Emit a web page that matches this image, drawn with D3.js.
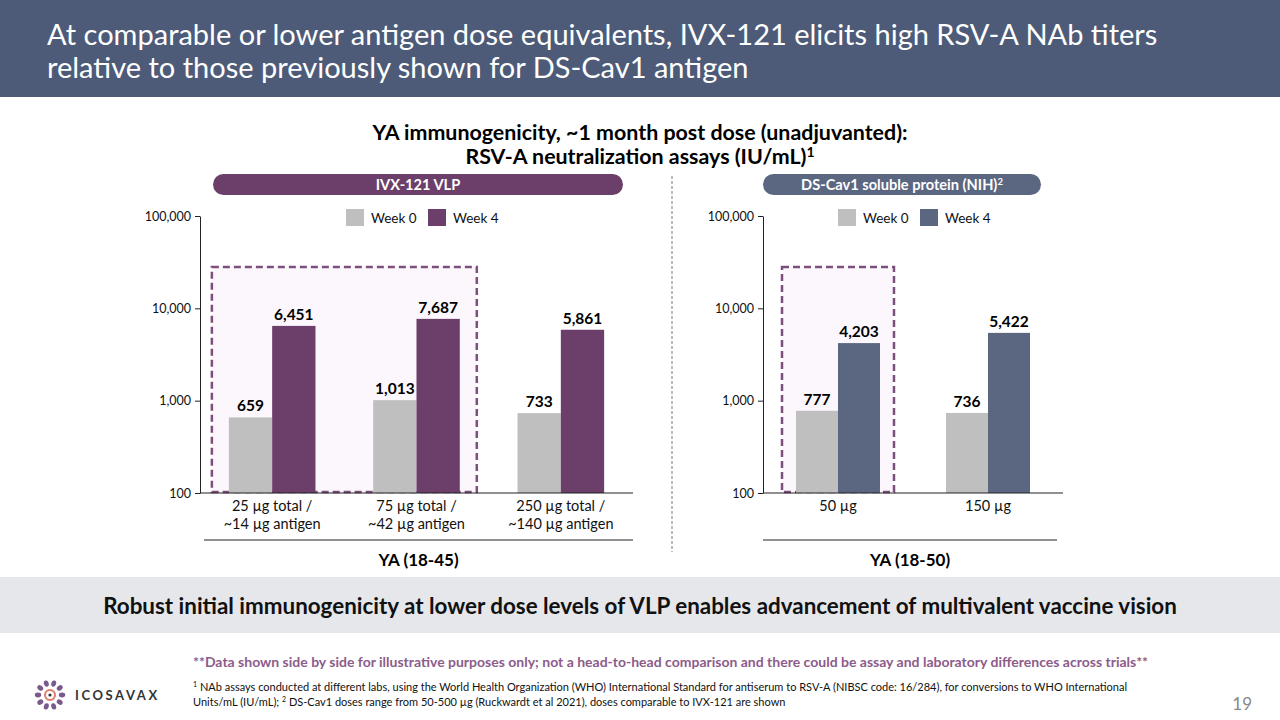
<!DOCTYPE html>
<html><head><meta charset="utf-8">
<script src="https://cdn.jsdelivr.net/npm/d3@7"></script>
<style>
body{margin:0;background:#fff;}
svg{display:block;font-family:Lato,"Open Sans",sans-serif;}
</style></head>
<body><svg id="c" width="1280" height="720"></svg>
<script>
// ---- data ----
const leftCategories = [["25 µg total /","~14 µg antigen"],["75 µg total /","~42 µg antigen"],["250 µg total /","~140 µg antigen"]];
const leftWeek0 = [659, 1013, 733];
const leftWeek4 = [6451, 7687, 5861];
const rightCategories = [["50 µg"],["150 µg"]];
const rightWeek0 = [777, 736];
const rightWeek4 = [4203, 5422];
const yTicks = [100, 1000, 10000, 100000];
const seriesNames = ["Week 0", "Week 4"];

const svg = d3.select("#c");
const fmt = d3.format(",");

// header
svg.append("rect").attr("x",0).attr("y",0).attr("width",1280).attr("height",97).attr("fill","#4d5b78");
svg.append("text").attr("x",47).attr("y",45).attr("fill","#fff").attr("font-size",29)
  .text("At comparable or lower antigen dose equivalents, IVX-121 elicits high RSV-A NAb titers");
svg.append("text").attr("x",47).attr("y",78).attr("fill","#fff").attr("font-size",29)
  .text("relative to those previously shown for DS-Cav1 antigen");

// subtitle
svg.append("text").attr("x",640).attr("y",140).attr("text-anchor","middle").attr("font-size",21.4).attr("font-weight","bold")
  .text("YA immunogenicity, ~1 month post dose (unadjuvanted):");
const st = svg.append("text").attr("x",640).attr("y",164).attr("text-anchor","middle").attr("font-size",21.4).attr("font-weight","bold");
st.append("tspan").text("RSV-A neutralization assays (IU/mL)");
st.append("tspan").attr("dy",-7).attr("font-size",14).text("1");

// pills
function pill(x0,x1,color,label,sup){
  svg.append("rect").attr("x",x0).attr("y",174).attr("width",x1-x0).attr("height",21).attr("rx",10.5).attr("fill",color);
  const t = svg.append("text").attr("x",(x0+x1)/2).attr("y",190).attr("text-anchor","middle").attr("fill","#fff")
    .attr("font-size",14.6).attr("font-weight","bold");
  t.append("tspan").text(label);
  if(sup) t.append("tspan").attr("dy",-5).attr("font-size",9.5).text(sup);
}
pill(213,623,"#6b3f69","IVX-121 VLP");
pill(763,1041,"#5b6680","DS-Cav1 soluble protein (NIH)","2");

// divider
svg.append("line").attr("x1",672).attr("x2",672).attr("y1",176).attr("y2",552)
  .attr("stroke","#777").attr("stroke-width",1).attr("stroke-dasharray","3,2");

const y = d3.scaleLog().domain([100,100000]).range([493,216]);

function panel(opt){
  const g = svg.append("g");
  const x0 = d3.scaleBand().domain(d3.range(opt.cats.length)).range([opt.left,opt.right]).padding(0);
  const x1 = d3.scaleBand().domain([0,1]).range([x0.bandwidth()*opt.inset, x0.bandwidth()*(1-opt.inset)]).padding(0);

  // highlight box
  const bx0 = x0(opt.boxFrom)+x1(0)-opt.boxPad, bx1 = x0(opt.boxTo)+x1(1)+x1.bandwidth()+opt.boxPad;
  g.append("rect").attr("x",bx0).attr("y",y(28000)).attr("width",bx1-bx0).attr("height",y(100)-1-y(28000))
    .attr("fill","#fbf7fc").attr("stroke","#7d4f7c").attr("stroke-width",2.5).attr("stroke-dasharray","7,4");

  const series = [opt.w0, opt.w4];
  const colors = ["#bfbfbf", opt.color];
  series.forEach((vals,si)=>{
    g.selectAll(null).data(vals).join("rect")
      .attr("x",(d,i)=>x0(i)+x1(si)).attr("width",x1.bandwidth())
      .attr("y",d=>y(d)).attr("height",d=>y(100)-y(d)).attr("fill",colors[si]);
    g.selectAll(null).data(vals).join("text")
      .attr("x",(d,i)=>x0(i)+x1(si)+x1.bandwidth()/2).attr("y",d=>y(d)-6)
      .attr("text-anchor","middle").attr("font-size",15.5).attr("font-weight","bold").text(d=>fmt(d));
  });

  // y axis
  const ax = g.append("g").attr("transform",`translate(${opt.left},0)`)
    .call(d3.axisLeft(y).tickValues(yTicks).tickFormat(d=>fmt(d)).tickSize(5).tickSizeOuter(0));
  ax.select(".domain").attr("stroke","#222");
  ax.selectAll(".tick line").attr("stroke","#222");
  ax.selectAll(".tick text").attr("font-family","Lato, sans-serif").attr("font-size",12.5).attr("fill","#111").attr("x",-9);
  // x axis line
  g.append("line").attr("x1",opt.left).attr("x2",opt.right).attr("y1",y(100)).attr("y2",y(100)).attr("stroke","#222").attr("stroke-width",1.2);

  // category labels
  opt.cats.forEach((lines,i)=>{
    const t = g.append("text").attr("x",x0(i)+x0.bandwidth()/2).attr("y",511).attr("text-anchor","middle").attr("font-size",14.5).attr("fill","#111");
    lines.forEach((l,j)=>t.append("tspan").attr("x",x0(i)+x0.bandwidth()/2).attr("dy",j?18:0).text(l));
  });
  g.append("line").attr("x1",opt.ulx0).attr("x2",opt.ulx1).attr("y1",540).attr("y2",540).attr("stroke","#222").attr("stroke-width",1.2);
  g.append("text").attr("x",(opt.ulx0+opt.ulx1)/2).attr("y",566).attr("text-anchor","middle").attr("font-size",17).attr("font-weight","bold").text(opt.group);

  // legend
  const lg = g.append("g").attr("transform",`translate(${opt.legX},209)`);
  seriesNames.forEach((n,i)=>{
    lg.append("rect").attr("x",i*82).attr("y",0).attr("width",18).attr("height",17).attr("fill",colors[i]);
    lg.append("text").attr("x",i*82+25).attr("y",14).attr("font-size",13.5).attr("fill","#111").text(n);
  });
}

panel({cats:leftCategories,w0:leftWeek0,w4:leftWeek4,left:200,right:633,inset:0.2,color:"#6b3f69",
  boxFrom:0,boxTo:1,boxPad:17,ulx0:204,ulx1:633,group:"YA (18-45)",legX:346});
panel({cats:rightCategories,w0:rightWeek0,w4:rightWeek4,left:763,right:1063,inset:0.22,color:"#5b6680",
  boxFrom:0,boxTo:0,boxPad:14,ulx0:763,ulx1:1057,group:"YA (18-50)",legX:838});

// bottom band
svg.append("rect").attr("x",0).attr("y",577).attr("width",1280).attr("height",56).attr("fill","#e6e7eb");
svg.append("text").attr("x",640).attr("y",614).attr("text-anchor","middle").attr("font-size",22.4).attr("font-weight","bold").attr("fill","#111")
  .text("Robust initial immunogenicity at lower dose levels of VLP enables advancement of multivalent vaccine vision");

// footnotes
svg.append("text").attr("x",193).attr("y",667).attr("font-size",14).attr("font-weight","bold").attr("fill","#8c5c8b")
  .text("**Data shown side by side for illustrative purposes only; not a head-to-head comparison and there could be assay and laboratory differences across trials**");
const f1 = svg.append("text").attr("x",193).attr("y",691).attr("font-size",11).attr("fill","#111");
f1.append("tspan").attr("dy",-4).attr("font-size",7).text("1");
f1.append("tspan").attr("dy",4).text(" NAb assays conducted at different labs, using the World Health Organization (WHO) International Standard for antiserum to RSV-A (NIBSC code: 16/284), for conversions to WHO International");
const f2 = svg.append("text").attr("x",193).attr("y",706).attr("font-size",11).attr("fill","#111");
f2.append("tspan").text("Units/mL (IU/mL); ");
f2.append("tspan").attr("dy",-4).attr("font-size",7).text("2");
f2.append("tspan").attr("dy",4).text(" DS-Cav1 doses range from 50-500 µg (Ruckwardt et al 2021), doses comparable to IVX-121 are shown");
svg.append("text").attr("x",1252).attr("y",710).attr("text-anchor","end").attr("font-size",17).attr("fill","#888").text("19");

// logo
const logo = svg.append("g").attr("transform","translate(50,695)");
d3.range(10).forEach(i=>{
  const a = i/10*2*Math.PI;
  logo.append("ellipse").attr("cx",Math.cos(a)*12).attr("cy",Math.sin(a)*12).attr("rx",3.2).attr("ry",2.4)
    .attr("transform",`rotate(${a*180/Math.PI},${Math.cos(a)*12},${Math.sin(a)*12})`).attr("fill","#7a5a8c");
});
logo.append("circle").attr("r",5).attr("fill","none").attr("stroke","#e07a6a").attr("stroke-width",2);
logo.append("circle").attr("r",1.6).attr("fill","#333");
svg.append("text").attr("x",75).attr("y",700).attr("font-size",13).attr("letter-spacing",2.6).attr("font-weight","bold").attr("fill","#333").text("ICOSAVAX");
</script></body></html>
